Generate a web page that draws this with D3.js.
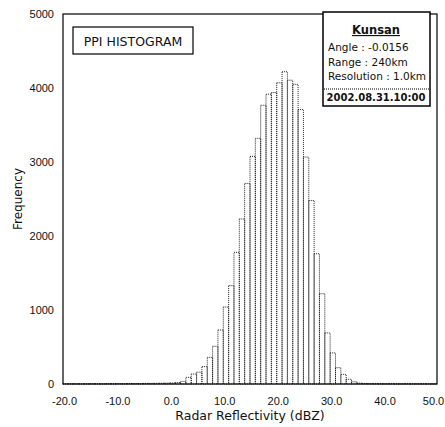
<!doctype html>
<html lang="en">
  <head>
    <meta charset="utf-8">
    <title>PPI Histogram</title>
    <script src="https://cdnjs.cloudflare.com/ajax/libs/d3/7.8.5/d3.min.js"></script>
    <style>
      body { margin: 0; background: #fff; }
      svg text { font-family: "DejaVu Sans", Verdana, sans-serif; fill: #111; }
    </style>
  </head>
  <body>
    <div id="chart"></div>
    <script>
      // bin start (dBZ), 1 dBZ wide
      var binStarts = [
        -20, -19, -18, -17, -16, -15, -14, -13, -12, -11,
        -10, -9, -8, -7, -6, -5, -4, -3, -2, -1,
        0, 1, 2, 3, 4, 5, 6, 7, 8, 9,
        10, 11, 12, 13, 14, 15, 16, 17, 18, 19,
        20, 21, 22, 23, 24, 25, 26, 27, 28, 29,
        30, 31, 32, 33, 34, 35, 36, 37, 38, 39,
        40, 41, 42, 43, 44, 45, 46, 47, 48, 49
      ];
      var counts = [
        2, 2, 2, 2, 2, 3, 3, 3, 4, 4,
        5, 5, 6, 6, 7, 8, 8, 10, 10, 12,
        14, 20, 35, 90, 135, 160, 235, 360, 510, 730,
        1040, 1330, 1780, 2230, 2710, 3076, 3320, 3767, 3916, 3940,
        4070, 4220, 4105, 4050, 3710, 3066, 2480, 1760, 1220, 690,
        420, 220, 130, 65, 30, 12, 8, 5, 4, 3,
        3, 3, 2, 2, 2, 2, 2, 2, 2, 2
      ];
      var xTicks = [-20, -10, 0, 10, 20, 30, 40, 50];
      var xTickLabels = ["-20.0", "-10.0", "0.0", "10.0", "20.0", "30.0", "40.0", "50.0"];
      var yTicks = [0, 1000, 2000, 3000, 4000, 5000];
      var infoLines = ["Angle : -0.0156", "Range : 240km", "Resolution : 1.0km"];
      var stationName = "Kunsan";
      var dateLabel = "2002.08.31.10:00";
      var titleLabel = "PPI HISTOGRAM";

      var width = 445, height = 427;
      var plot = {left: 63, right: 437, top: 14, bottom: 384};
      var tickFont = "'Liberation Sans', Arial, sans-serif";

      var svg = d3.select("#chart").append("svg")
          .attr("width", width)
          .attr("height", height);

      svg.append("rect").attr("width", width).attr("height", height).attr("fill", "#fff");

      var x = d3.scaleLinear().domain([-20, 50]).range([plot.left, plot.right]);
      var y = d3.scaleLinear().domain([0, 5000]).range([plot.bottom, plot.top]);

      // bars, dotted outline like the scanned plot
      svg.append("g").selectAll("rect")
        .data(binStarts)
        .enter()
        .append("rect")
          .attr("x", function(d) { return x(d); })
          .attr("y", function(d, i) { return y(counts[i]); })
          .attr("width", function(d) { return x(d + 1) - x(d); })
          .attr("height", function(d, i) { return y(0) - y(counts[i]); })
          .attr("fill", "none")
          .attr("stroke", "#222")
          .attr("stroke-width", 1)
          .attr("stroke-dasharray", "1,1");

      // frame
      svg.append("rect")
          .attr("x", plot.left).attr("y", plot.top)
          .attr("width", plot.right - plot.left)
          .attr("height", plot.bottom - plot.top)
          .attr("fill", "none")
          .attr("stroke", "#000")
          .attr("stroke-width", 1.2);

      // axes (labels only)
      var xAxis = svg.append("g")
          .attr("transform", "translate(0," + plot.bottom + ")")
          .call(d3.axisBottom(x).tickValues(xTicks).tickSize(0).tickPadding(13)
            .tickFormat(function(d, i) { return xTickLabels[i]; }));
      xAxis.select(".domain").remove();
      xAxis.selectAll(".tick text")
          .style("font-family", tickFont)
          .style("font-size", "11px")
          .attr("dx", function(d, i) { return i === xTicks.length - 1 ? -4 : 1; });

      var yAxis = svg.append("g")
          .attr("transform", "translate(" + (plot.left - 9) + ",0)")
          .call(d3.axisLeft(y).tickValues(yTicks).tickSize(0).tickPadding(0)
            .tickFormat(d3.format("d")));
      yAxis.select(".domain").remove();
      yAxis.selectAll(".tick text")
          .style("font-family", tickFont)
          .style("font-size", "11px");

      svg.append("text")
          .attr("x", 250).attr("y", 420)
          .attr("text-anchor", "middle")
          .style("font-size", "12.5px")
          .text("Radar Reflectivity (dBZ)");

      svg.append("text")
          .attr("transform", "translate(22,199) rotate(-90)")
          .attr("text-anchor", "middle")
          .style("font-size", "12px")
          .text("Frequency");

      // title box
      svg.append("rect")
          .attr("x", 73).attr("y", 27).attr("width", 120).attr("height", 27)
          .attr("fill", "#fff").attr("stroke", "#000").attr("stroke-width", 1.2);
      svg.append("text")
          .attr("x", 133).attr("y", 46)
          .attr("text-anchor", "middle")
          .style("font-size", "12.5px")
          .text(titleLabel);

      // info box
      var info = svg.append("g");
      info.append("rect")
          .attr("x", 323).attr("y", 12).attr("width", 107).attr("height", 94)
          .attr("fill", "#fff").attr("stroke", "#000").attr("stroke-width", 1.5);
      info.append("text")
          .attr("x", 376).attr("y", 34)
          .attr("text-anchor", "middle")
          .style("font-size", "11.5px").style("font-weight", "bold")
          .style("text-decoration", "underline")
          .text(stationName);
      info.selectAll("text.line")
        .data(infoLines)
        .enter()
        .append("text")
          .attr("class", "line")
          .attr("x", 328)
          .attr("y", function(d, i) { return 51 + i * 14.5; })
          .style("font-size", "10.5px")
          .text(function(d) { return d; });
      info.append("line")
          .attr("x1", 324).attr("x2", 429).attr("y1", 89).attr("y2", 89)
          .attr("stroke", "#000").attr("stroke-dasharray", "1,1");
      info.append("text")
          .attr("x", 376).attr("y", 101)
          .attr("text-anchor", "middle")
          .style("font-size", "10px").style("font-weight", "bold")
          .text(dateLabel);
    </script>
  </body>
</html>
